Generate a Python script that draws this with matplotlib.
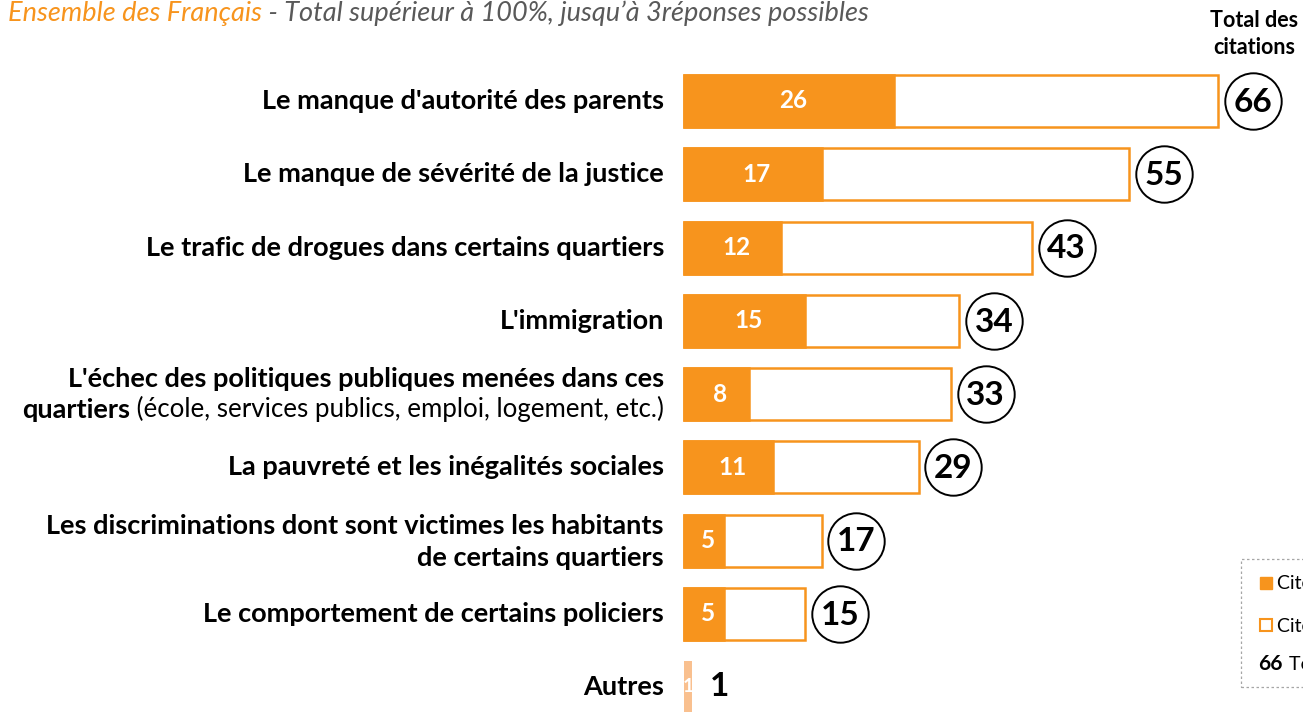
import matplotlib.pyplot as plt
import matplotlib.patches as patches

plt.rcParams['font.family'] = ['Lato', 'DejaVu Sans']

# data
labels = ["Le manque d'autorité des parents",
          "Le manque de sévérité de la justice",
          "Le trafic de drogues dans certains quartiers",
          "L'immigration",
          "L'échec des politiques publiques menées dans ces\nquartiers",
          "La pauvreté et les inégalités sociales",
          "Les discriminations dont sont victimes les habitants\nde certains quartiers",
          "Le comportement de certains policiers",
          "Autres"]
first = [26, 17, 12, 15, 8, 11, 5, 5, 1]
total = [66, 55, 43, 34, 33, 29, 17, 15, 1]
note = " (école, services publics, emploi, logement, etc.)"

orange = '#F7941D'
light = '#F9C08F'

W, H = 1303, 712
ppu = 8.09          # pixels per point of percentage
x0 = 684            # left edge of bars in pixels
row0, step = 101, 73.25

fig = plt.figure(figsize=(W / 100, H / 100), dpi=100)
ax = fig.add_axes([0, 0, 1, 1])
ax.set_xlim(-x0 / ppu, (W - x0) / ppu)
ax.set_ylim((H - row0) / step, -row0 / step)
ax.axis('off')

ypos = list(range(len(labels)))
h = 52 / step
fs = 19.5

for i, (f, t, lab) in enumerate(zip(first, total, labels)):
    y = ypos[i]
    if lab == "Autres":
        ax.barh(y, f, height=h, color=light, edgecolor='none')
        ax.text(f / 2, y, str(f), color='white', fontsize=14, fontweight='bold',
                ha='center', va='center')
        ax.text(f + 2.2, y, str(t), color='black', fontsize=24, fontweight='bold',
                ha='left', va='center')
    else:
        ax.barh(y, t, height=h, color='white', edgecolor=orange, linewidth=1.8)
        ax.barh(y, f, height=h, color=orange, edgecolor=orange, linewidth=1.8)
        ax.text(f / 2 + 0.5, y, str(f), color='white', fontsize=17.5, fontweight='bold',
                ha='center', va='center')
        cx = t + 4.3
        ax.scatter([cx], [y], s=1650, facecolor='white', edgecolor='black',
                   linewidth=1.4, zorder=3)
        ax.text(cx, y + 0.02, str(t), color='black', fontsize=24, fontweight='bold',
                ha='center', va='center', zorder=4)

    lx = -20 / ppu
    if "\n" in lab:
        l1, l2 = lab.split("\n")
        ax.text(lx, y - 0.2, l1, fontsize=fs, fontweight='bold', ha='right', va='center')
        if lab.startswith("L'échec"):
            t2 = ax.text(lx, y + 0.2, note, fontsize=18.6, ha='right', va='center')
            ax.annotate(l2, xy=(0, 0), xycoords=t2, fontsize=fs, fontweight='bold',
                        ha='right', va='bottom')
        else:
            ax.text(lx, y + 0.24, l2, fontsize=fs, fontweight='bold', ha='right',
                    va='center')
    else:
        ax.text(lx, y, lab, fontsize=fs, fontweight='bold', ha='right', va='center')

# title
t1 = fig.text(8 / W, 1 - 14 / H, "Ensemble des Français", color=orange, fontsize=19.5,
              style='italic', ha='left', va='center')
ax.annotate(" - Total supérieur à 100%, jusqu\u2019à 3réponses possibles", xy=(1, 0),
            xycoords=t1, color='#595959', fontsize=19.5, style='italic',
            ha='left', va='bottom')

fig.text(1254 / W, 1 - 34 / H, "Total des\ncitations", fontsize=15.5, fontweight='bold',
         ha='center', va='center', linespacing=1.3)

# legend box (cut by the figure edge)
fig.patches.append(patches.Rectangle((1241 / W, 1 - 687 / H), 100 / W, 128 / H,
                                     transform=fig.transFigure, fill=False,
                                     edgecolor='#A6A6A6', linestyle=(0, (2, 2)),
                                     linewidth=0.9))
fig.patches.append(patches.Rectangle((1260 / W, 1 - 589 / H), 12 / W, 12 / H,
                                     transform=fig.transFigure, facecolor=orange,
                                     edgecolor=orange))
fig.patches.append(patches.Rectangle((1260 / W, 1 - 631 / H), 12 / W, 12 / H,
                                     transform=fig.transFigure, facecolor='white',
                                     edgecolor=orange, linewidth=1.5))
fig.text(1277 / W, 1 - 584 / H, "Cité en premier", fontsize=14, ha='left', va='center')
fig.text(1277 / W, 1 - 626 / H, "Cité au total", fontsize=14, ha='left', va='center')
fig.text(1258 / W, 1 - 664 / H, "66", fontsize=15, fontweight='bold', ha='left', va='center')
fig.text(1289 / W, 1 - 664 / H, "Total des citations", fontsize=14, ha='left', va='center')

fig.savefig('out.png', dpi=100)
